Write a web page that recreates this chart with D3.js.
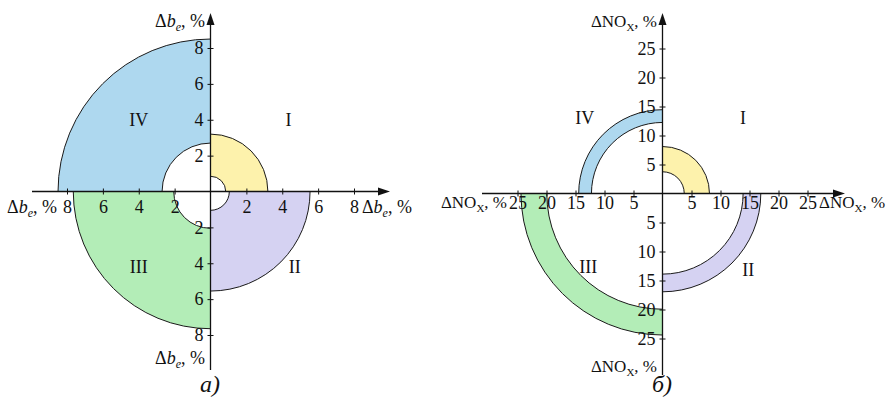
<!DOCTYPE html>
<html>
<head>
<meta charset="utf-8">
<script src="https://cdn.jsdelivr.net/npm/d3@7"></script>
<style>
  body { margin: 0; background: #fff; }
  svg { display: block; }
  text { font-family: "Liberation Serif", "Times New Roman", serif; fill: #111; }
</style>
</head>
<body>
<svg id="chart" width="890" height="401"></svg>
<script>
// Quadrant names and fills (I: upper right, then clockwise)
const quadrants = ["I", "II", "III", "IV"];
const quadrantColors = ["#fdf2ac", "#d5d2f2", "#b3edb7", "#aed8ef"];

// Panel a: change of specific fuel consumption, %
const beInner = [0.85, 1.05, 2.05, 2.7];
const beOuter = [3.2, 5.55, 7.65, 8.5];
const beTicks = [2, 4, 6, 8];

// Panel b: change of NOx emission, %
const noxInner = [3.75, 13.9, 19.95, 12.25];
const noxOuter = [8.1, 16.95, 24.4, 14.45];
const noxTicks = [5, 10, 15, 20, 25];

const svg = d3.select("#chart");

const panels = [
  {
    inner: beInner, outer: beOuter, ticks: beTicks, max: 8,
    ox: 210.5, oy: 191.5, R: 143.5,
    xAxisL: 32, xAxisR: 390, yAxisT: 13, yAxisB: 370,
    labelKind: "be", labelSize: 18,
    quadLabelAt: [[4.35, 4.0], [4.7, -4.2], [-4.0, -4.2], [-4.0, 4.0]],
    xLabelDy: 21, caption: "а)",
    axisLabels: { top: [205, 27], left: [57, 213], right: [362, 213], bottom: [205, 364] },
    captionAt: [210, 392]
  },
  {
    inner: noxInner, outer: noxOuter, ticks: noxTicks, max: 25,
    ox: 662.5, oy: 193.5, R: 145,
    xAxisL: 482, xAxisR: 845, yAxisT: 13, yAxisB: 375,
    labelKind: "nox", labelSize: 17,
    quadLabelAt: [[13.9, 13.0], [14.8, -13.2], [-12.8, -12.7], [-13.4, 13.0]],
    xLabelDy: 15, caption: "б)",
    axisLabels: { top: [657, 27], left: [507, 208], right: [819, 208], bottom: [657, 372] },
    captionAt: [662, 392]
  }
];

// Axis caption such as "Δb_e, %" or "ΔNO_X, %"
function axisLabel(g, x, y, anchor, kind, size) {
  const t = g.append("text").attr("x", x).attr("y", y)
    .attr("text-anchor", anchor).style("font-size", size + "px");
  if (kind === "be") {
    t.append("tspan").text("Δ");
    t.append("tspan").style("font-style", "italic").text("b");
    t.append("tspan").style("font-style", "italic").style("font-size", "12px")
      .attr("dy", 4).text("e");
    t.append("tspan").attr("dy", -4).text(", %");
  } else {
    t.append("tspan").text("ΔNO");
    t.append("tspan").style("font-size", "11px").attr("dy", 4).text("X");
    t.append("tspan").attr("dy", -4).text(", %");
  }
}

panels.forEach(p => {
  const g = svg.append("g");
  const r = d3.scaleLinear().domain([0, p.max]).range([0, p.R]);
  const x = d3.scaleLinear().domain([-p.max, p.max]).range([p.ox - p.R, p.ox + p.R]);
  const y = d3.scaleLinear().domain([-p.max, p.max]).range([p.oy + p.R, p.oy - p.R]);

  // Annular sectors, one per quadrant
  const arc = d3.arc();
  g.append("g").attr("transform", `translate(${p.ox},${p.oy})`)
    .selectAll("path").data(quadrants).join("path")
    .attr("d", (q, i) => arc({
      innerRadius: r(p.inner[i]), outerRadius: r(p.outer[i]),
      startAngle: i * Math.PI / 2, endAngle: (i + 1) * Math.PI / 2
    }))
    .attr("fill", (q, i) => quadrantColors[i])
    .attr("stroke", "#1a1a1a").attr("stroke-width", 1);

  // Quadrant names
  g.selectAll("text.quad").data(quadrants).join("text").attr("class", "quad")
    .attr("x", (q, i) => x(p.quadLabelAt[i][0]))
    .attr("y", (q, i) => y(p.quadLabelAt[i][1]))
    .attr("text-anchor", "middle").attr("dy", "0.35em")
    .style("font-size", "18px").text(d => d);

  const tickVals = p.ticks.map(d => -d).reverse().concat(p.ticks);

  // Horizontal axis
  const xa = g.append("g").attr("transform", `translate(0,${p.oy})`)
    .call(d3.axisBottom(x).tickValues(tickVals).tickFormat(d => Math.abs(d))
      .tickSizeInner(3).tickSizeOuter(0));
  xa.select(".domain").remove();
  xa.selectAll(".tick line").attr("y1", -3).attr("stroke", "#111");
  xa.selectAll(".tick text").attr("y", p.xLabelDy).attr("dy", null)
    .style("font-size", "18px").attr("fill", "#111");
  xa.attr("font-size", null).attr("font-family", null);

  // Vertical axis
  const ya = g.append("g").attr("transform", `translate(${p.ox},0)`)
    .call(d3.axisLeft(y).tickValues(tickVals).tickFormat(d => Math.abs(d))
      .tickSizeInner(3).tickSizeOuter(0).tickPadding(4));
  ya.select(".domain").remove();
  ya.selectAll(".tick line").attr("x1", 3).attr("stroke", "#111");
  ya.selectAll(".tick text").style("font-size", "18px").attr("fill", "#111");
  ya.attr("font-size", null).attr("font-family", null);

  // Axis lines with arrowheads
  g.append("line").attr("x1", p.xAxisL).attr("x2", p.xAxisR - 8)
    .attr("y1", p.oy).attr("y2", p.oy).attr("stroke", "#111").attr("stroke-width", 1.3);
  g.append("line").attr("x1", p.ox).attr("x2", p.ox)
    .attr("y1", p.yAxisT + 8).attr("y2", p.yAxisB).attr("stroke", "#111").attr("stroke-width", 1.3);
  g.append("path")
    .attr("d", `M${p.xAxisR},${p.oy} L${p.xAxisR - 12},${p.oy - 4} L${p.xAxisR - 12},${p.oy + 4} Z`)
    .attr("fill", "#111");
  g.append("path")
    .attr("d", `M${p.ox},${p.yAxisT} L${p.ox - 4},${p.yAxisT + 12} L${p.ox + 4},${p.yAxisT + 12} Z`)
    .attr("fill", "#111");

  // Axis captions
  const al = p.axisLabels;
  axisLabel(g, al.top[0], al.top[1], "end", p.labelKind, p.labelSize);
  axisLabel(g, al.left[0], al.left[1], "end", p.labelKind, p.labelSize);
  axisLabel(g, al.right[0], al.right[1], "start", p.labelKind, p.labelSize);
  axisLabel(g, al.bottom[0], al.bottom[1], "end", p.labelKind, p.labelSize);

  // Panel caption
  g.append("text").attr("x", p.captionAt[0]).attr("y", p.captionAt[1])
    .attr("text-anchor", "middle").style("font-size", "24px").style("font-style", "italic")
    .text(p.caption);
});
</script>
</body>
</html>
